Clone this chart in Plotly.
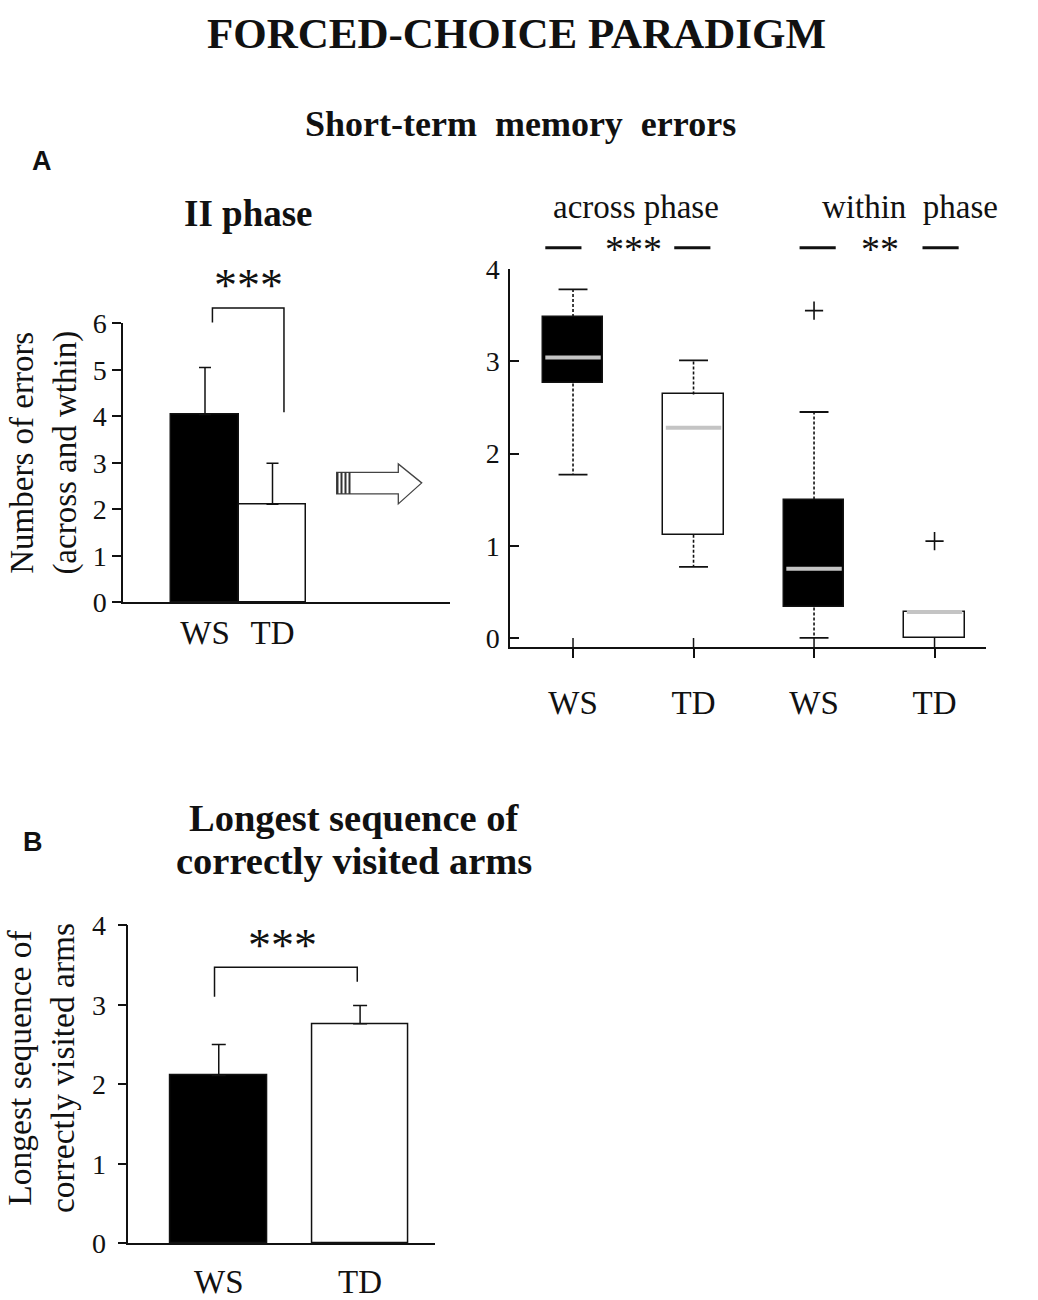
import plotly.graph_objects as go

# ---- data ----
ii_groups = ["WS", "TD"]
ii_mean = [4.04, 2.11]
ii_sem = [1.01, 0.88]

box_labels = ["WS", "TD", "WS", "TD"]
box_fill = ["black", "white", "black", "white"]
box_q1 = [2.76, 1.12, 0.33, 0.00]
box_med = [3.04, 2.28, 0.75, 0.28]
box_q3 = [3.48, 2.64, 1.50, 0.28]
box_lo = [1.77, 0.77, 0.00, 0.00]
box_hi = [3.78, 3.01, 2.45, 0.28]
out_x = [2, 3]
out_y = [3.55, 1.05]

seq_groups = ["WS", "TD"]
seq_mean = [2.11, 2.76]
seq_sem = [0.39, 0.23]

W, H = 1038, 1300
SERIF = "Liberation Serif"
SANS = "Liberation Sans"
INK = "#111111"


def px(x):
    return x / W


def py(y):
    # the page comes out slightly squeezed vertically, undo that here
    return 1 - ((y - 14) / 0.977) / H


# panel geometry in pixels: (x0, x1), (ytop, ybottom), axis ranges
PA = dict(x=(123, 450), y=(322.7, 601.7), xr=(-1.215, 3.63), yr=(0, 6))
PR = dict(x=(510, 986), y=(268.3, 646.7), xr=(-0.523, 3.427), yr=(-0.1, 4.0))
PB = dict(x=(128.3, 435), y=(925, 1243.3), xr=(-0.64, 1.53), yr=(0, 4))


def to_px(p, vx, vy):
    (x0, x1), (yt, yb) = p["x"], p["y"]
    (a, b), (c, d) = p["xr"], p["yr"]
    return x0 + (vx - a) / (b - a) * (x1 - x0), yb - (vy - c) / (d - c) * (yb - yt)


def to_paper(p, vx, vy):
    X, Y = to_px(p, vx, vy)
    return px(X), py(Y)


fig = go.Figure()

# ---- A left: II phase bars ----
fig.add_trace(go.Bar(
    x=[0, 1], y=ii_mean, width=1.0, xaxis="x", yaxis="y",
    marker=dict(color=["black", "white"], line=dict(color=INK, width=1.5)),
    error_y=dict(type="data", array=ii_sem, arrayminus=[0, 0], symmetric=False,
                 color=INK, thickness=1.5, width=6),
    showlegend=False))

# ---- A right: box plots drawn from quartiles ----
bw, cw = 0.25, 0.12
fig.add_trace(go.Bar(
    x=list(range(4)), y=[q3 - q1 for q1, q3 in zip(box_q1, box_q3)], base=box_q1,
    width=2 * bw, xaxis="x2", yaxis="y2",
    marker=dict(color=box_fill, line=dict(color=INK, width=1.5)), showlegend=False))
wx, wy, cx, cy, mx, my, tx, ty = [], [], [], [], [], [], [], []
for i in range(4):
    if box_hi[i] > box_q3[i]:
        wx += [i, i, None]; wy += [box_q3[i], box_hi[i], None]
        cx += [i - cw, i + cw, None]; cy += [box_hi[i], box_hi[i], None]
    if box_lo[i] < box_q1[i]:
        wx += [i, i, None]; wy += [box_q1[i], box_lo[i], None]
        cx += [i - cw, i + cw, None]; cy += [box_lo[i], box_lo[i], None]
    mx += [i - bw + 0.02, i + bw - 0.02, None]; my += [box_med[i], box_med[i], None]
    # upper half of the crossing x tick
    tx += [i, i, None]; ty += [PR["yr"][0], PR["yr"][0] + 0.1, None]
fig.add_trace(go.Scatter(x=wx, y=wy, mode="lines", xaxis="x2", yaxis="y2",
                         line=dict(color=INK, width=1.6, dash="3px,2px"), showlegend=False))
fig.add_trace(go.Scatter(x=cx, y=cy, mode="lines", xaxis="x2", yaxis="y2",
                         line=dict(color=INK, width=1.8), showlegend=False))
fig.add_trace(go.Scatter(x=mx, y=my, mode="lines", xaxis="x2", yaxis="y2",
                         line=dict(color="#c4c4c4", width=4), showlegend=False))
fig.add_trace(go.Scatter(x=tx, y=ty, mode="lines", xaxis="x2", yaxis="y2",
                         line=dict(color=INK, width=1.5), showlegend=False))
fig.add_trace(go.Scatter(x=out_x, y=out_y, mode="markers", xaxis="x2", yaxis="y2",
                         marker=dict(symbol="cross-thin", size=13, line=dict(color=INK, width=1.6)),
                         showlegend=False))

# ---- B: longest sequence bars ----
fig.add_trace(go.Bar(
    x=[0, 1], y=seq_mean, width=0.68, xaxis="x3", yaxis="y3",
    marker=dict(color=["black", "white"], line=dict(color=INK, width=1.5)),
    error_y=dict(type="data", array=seq_sem, arrayminus=[0, 0], symmetric=False,
                 color=INK, thickness=1.5, width=7),
    showlegend=False))


def axes(p, n, ticktext, tickvals, yticks, xfont=33, yfont=28, yin=False):
    xa = dict(domain=[px(p["x"][0]), px(p["x"][1])], range=list(p["xr"]),
              anchor="y" + n, showgrid=False, zeroline=False, showline=True,
              linecolor=INK, linewidth=1.5, ticks="outside", ticklen=9, tickwidth=1.5,
              tickcolor=INK, tickmode="array", tickvals=tickvals, ticktext=ticktext,
              tickfont=dict(family=SERIF, size=xfont, color=INK), fixedrange=True)
    ya = dict(domain=[py(p["y"][1]), py(p["y"][0])], range=list(p["yr"]),
              anchor="x" + n, showgrid=False, zeroline=False, showline=True,
              linecolor=INK, linewidth=1.5,
              ticks="inside" if yin else "outside", ticklen=9, tickwidth=1.5, tickcolor=INK,
              tickmode="array", tickvals=yticks, ticktext=[str(v) for v in yticks],
              tickfont=dict(family=SERIF, size=yfont, color=INK), fixedrange=True)
    return xa, ya


xa1, ya1 = axes(PA, "", ii_groups, [0, 1], [0, 1, 2, 3, 4, 5, 6])
xa2, ya2 = axes(PR, "2", box_labels, [0, 1, 2, 3], [0, 1, 2, 3, 4], yin=True)
xa3, ya3 = axes(PB, "3", seq_groups, [0, 1], [0, 1, 2, 3, 4])
xa1["ticks"] = ""
xa3["ticks"] = ""
xa2["ticklabelstandoff"] = 16
xa3["ticklabelstandoff"] = 8
ya2["ticklabelstandoff"] = 3
ya3["ticklabelstandoff"] = 6

shapes, ann = [], []
LINE = dict(color=INK, width=1.5)


def text(x, y, s, size, bold=False, family=SERIF, **kw):
    if bold:
        s = "<b>" + s + "</b>"
    ann.append(dict(x=x, y=y, xref="paper", yref="paper", text=s, showarrow=False,
                    font=dict(family=family, size=size, color=INK),
                    xanchor="center", yanchor="middle", **kw))


def bracket(p, xa_, xb_, ytop, ya_, yb_, stars, sx, sy, size=46):
    a0 = to_paper(p, xa_, ya_); a1 = to_paper(p, xa_, ytop)
    b1 = to_paper(p, xb_, ytop); b0 = to_paper(p, xb_, yb_)
    shapes.append(dict(type="path", xref="paper", yref="paper", line=LINE,
                       path=f"M{a0[0]},{a0[1]} L{a1[0]},{a1[1]} L{b1[0]},{b1[1]} L{b0[0]},{b0[1]}"))
    s = to_paper(p, sx, sy)
    text(s[0], s[1], stars, size)


# brackets and stars
bracket(PA, 0.11, 1.17, 6.33, 6.02, 4.09, "***", 0.65, 6.82)
bracket(PB, -0.03, 0.98, 3.47, 3.10, 3.29, "***", 0.45, 3.75)

# across / within dashes above the box plot
dash_x0 = [-0.23, 0.84, 1.88, 2.90]
for x0 in dash_x0:
    a = to_paper(PR, x0, 4.23); b = to_paper(PR, x0 + 0.30, 4.23)
    shapes.append(dict(type="line", xref="paper", yref="paper", x0=a[0], y0=a[1],
                       x1=b[0], y1=b[1], line=dict(color=INK, width=3)))
for stars, sx, lab, lx in [("***", 0.5, "across phase", 0.52),
                           ("**", 2.55, "within&nbsp; phase", 2.8)]:
    s = to_paper(PR, sx, 4.22)
    text(s[0], s[1], stars, 38)
    t = to_paper(PR, lx, 4.67)
    text(t[0], t[1], lab, 33)

# hollow arrow between the A panels
ax0, ax2, ax3 = 336.7, 398.3, 421.7
yt, yb, ht, hb, ym = 471.7, 493.3, 463.3, 503.3, 482.3
pts = [(ax0, yt), (ax2, yt), (ax2, ht), (ax3, ym), (ax2, hb), (ax2, yb), (ax0, yb)]
shapes.append(dict(type="path", xref="paper", yref="paper", line=dict(color="#444", width=1.3),
                   fillcolor="white",
                   path="M" + " L".join(f"{px(a)},{py(b)}" for a, b in pts) + " Z"))
for xs in (337.5, 341.5, 345.5, 349.5):
    shapes.append(dict(type="line", xref="paper", yref="paper", x0=px(xs), x1=px(xs),
                       y0=py(yt), y1=py(yb), line=dict(color="#333", width=2)))

# titles and labels
text(px(516), py(33), "FORCED-CHOICE PARADIGM", 43, bold=True)
text(px(520), py(123), "Short-term&nbsp; memory&nbsp; errors", 36, bold=True)
text(px(42), py(160), "A", 27, bold=True, family=SANS)
text(px(248), py(213), "II phase", 37, bold=True)
text(px(33), py(842), "B", 27, bold=True, family=SANS)
text(px(354), py(818), "Longest sequence of", 38.5, bold=True)
text(px(354), py(861), "correctly visited arms", 38.5, bold=True)
text(px(44), py(452), "Numbers of errors<br>(across and wthin)", 33, textangle=-90)
text(px(41), py(1068), "Longest sequence of<br>correctly visited arms", 33.5, textangle=-90)

fig.update_layout(
    width=W, height=H, margin=dict(l=0, r=0, t=0, b=0),
    paper_bgcolor="white", plot_bgcolor="white", bargap=0,
    xaxis=xa1, yaxis=ya1, xaxis2=xa2, yaxis2=ya2, xaxis3=xa3, yaxis3=ya3,
    shapes=shapes, annotations=ann, showlegend=False)

fig.write_html("out.html", config={"displayModeBar": False},
               post_script="document.body.style.margin='0px';"
               "document.documentElement.style.overflow='hidden';")
